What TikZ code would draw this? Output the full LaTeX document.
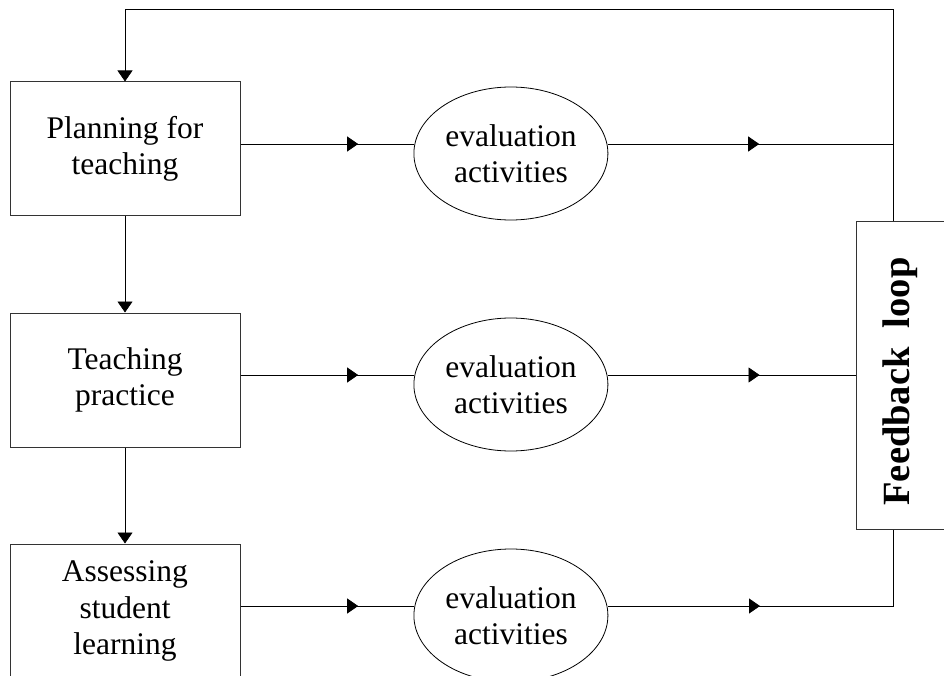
\documentclass[tikz,border=0pt]{standalone}
\usepackage{fontspec}
\setmainfont{Liberation Serif}
\usetikzlibrary{positioning,shapes.geometric,arrows.meta,decorations.markings}
\tikzset{>={Triangle[length=11pt,width=15pt]}}
\tikzset{
  stage/.style={draw=black!80, line width=1pt, minimum width=230pt,
    minimum height=134pt, align=center, font=\fontsize{31.5}{36.5}\selectfont},
  evalnode/.style={ellipse, draw, line width=0.8pt, inner sep=0pt,
    minimum width=194pt, minimum height=133pt, align=center,
    font=\fontsize{31.5}{36.5}\selectfont},
  feedbox/.style={draw=black!80, line width=1pt, minimum width=96pt,
    minimum height=307pt, font=\fontsize{38.5}{42}\selectfont\bfseries},
  link/.style={line width=0.8pt},
  midarrow/.style={postaction={decorate},
    decoration={markings, mark=at position #1 with {\arrow{>}}}}
}

\begin{document}
\begin{tikzpicture}[x=1pt, y=1pt]
  \useasboundingbox (0,0) rectangle (944,-676);

  % Stages
  \node[stage]                     (plan)   at (125,-149) {Planning for\\teaching};
  \node[stage, below=96pt of plan]  (teach)  {Teaching\\practice};
  \node[stage, below=96pt of teach] (assess) {Assessing\\student\\learning};

  % Evaluation
  \node[evalnode, right=173pt of plan, yshift=-4.5pt]   (evalA) {evaluation\\activities};
  \node[evalnode, right=173pt of teach, yshift=-4.5pt]  (evalB) {evaluation\\activities};
  \node[evalnode, right=173pt of assess, yshift=-4.5pt] (evalC) {evaluation\\activities};

  % Feedback
  \node[feedbox, right=248pt of evalB, yshift=9pt] (fb) {\rotatebox{90}{Feedback\ \ loop\hspace*{12pt}}\hspace*{9pt}};

  \coordinate (loopTR) at (893,-9);
  \coordinate (outA) at ([yshift=9.5pt]evalA.east);
  \coordinate (outB) at ([yshift=9.5pt]evalB.east);
  \coordinate (outC) at ([yshift=9.5pt]evalC.east);

  % Edges
  \draw[link, ->] (plan) -- (teach);
  \draw[link, ->] (teach) -- (assess);

  \draw[link, midarrow=0.68] ([yshift=5pt]plan.east) -- ([yshift=9.5pt]evalA.west);
  \draw[link, midarrow=0.68] ([yshift=5pt]teach.east) -- ([yshift=9.5pt]evalB.west);
  \draw[link, midarrow=0.68] ([yshift=5pt]assess.east) -- ([yshift=9.5pt]evalC.west);

  \draw[link, midarrow=0.53] (outA) -- (outA -| loopTR);
  \draw[link, midarrow=0.61] (outB) -- (outB -| fb.west);
  \draw[link, midarrow=0.42] (outC) -- (outC -| loopTR) -- (fb.south -| loopTR);

  % Loop back
  \draw[link, ->] (fb.north -| loopTR) -- (loopTR) -- (loopTR -| plan.north) -- (plan.north);

\end{tikzpicture}
\end{document}
